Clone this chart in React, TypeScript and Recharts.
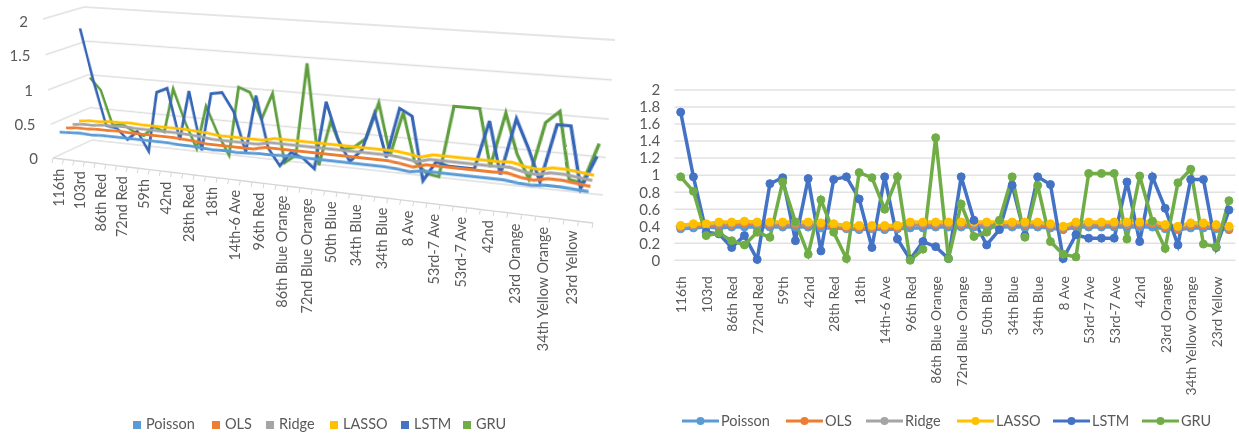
import React from "react";
import {
  LineChart,
  Line,
  XAxis,
  YAxis,
  CartesianGrid,
  Legend,
} from "recharts";

// odd categories are skipped by the axis in the picture, so they stay blank
const categories = [
  "116th", "", "103rd", "", "86th Red", "", "72nd Red", "", "59th", "", "42nd", "",
  "28th Red", "", "18th", "", "14th-6 Ave", "", "96th Red", "", "86th Blue Orange", "",
  "72nd Blue Orange", "", "50th Blue", "", "34th Blue", "", "34th Blue", "", "8 Ave", "",
  "53rd-7 Ave", "", "53rd-7 Ave", "", "42nd", "", "23rd Orange", "", "34th Yellow Orange", "",
  "23rd Yellow", "",
];

const poisson = [
  0.37, 0.38, 0.39, 0.38, 0.39, 0.39, 0.39, 0.39, 0.39, 0.39, 0.39, 0.38, 0.38, 0.37, 0.36,
  0.37, 0.36, 0.37, 0.38, 0.38, 0.39, 0.39, 0.39, 0.39, 0.39, 0.39, 0.39, 0.39, 0.39, 0.38,
  0.36, 0.39, 0.39, 0.39, 0.39, 0.39, 0.39, 0.39, 0.37, 0.36, 0.38, 0.38, 0.37, 0.36,
];
const ols = [
  0.39, 0.41, 0.41, 0.42, 0.42, 0.43, 0.42, 0.42, 0.42, 0.42, 0.42, 0.41, 0.4, 0.38, 0.38,
  0.38, 0.38, 0.38, 0.42, 0.42, 0.42, 0.42, 0.42, 0.42, 0.42, 0.42, 0.42, 0.42, 0.42, 0.4,
  0.37, 0.42, 0.42, 0.42, 0.42, 0.42, 0.42, 0.43, 0.39, 0.37, 0.41, 0.41, 0.39, 0.37,
];
const ridge = [
  0.4, 0.42, 0.42, 0.44, 0.44, 0.45, 0.44, 0.44, 0.44, 0.44, 0.44, 0.43, 0.42, 0.4, 0.4,
  0.4, 0.4, 0.4, 0.44, 0.44, 0.44, 0.44, 0.44, 0.44, 0.44, 0.44, 0.44, 0.44, 0.44, 0.42,
  0.39, 0.44, 0.44, 0.44, 0.44, 0.44, 0.44, 0.45, 0.41, 0.39, 0.43, 0.43, 0.41, 0.39,
];
const lasso = [
  0.41, 0.43, 0.43, 0.45, 0.45, 0.46, 0.45, 0.45, 0.45, 0.45, 0.45, 0.44, 0.43, 0.41, 0.41,
  0.41, 0.41, 0.41, 0.45, 0.45, 0.45, 0.45, 0.45, 0.45, 0.45, 0.45, 0.45, 0.45, 0.45, 0.43,
  0.4, 0.45, 0.45, 0.45, 0.45, 0.45, 0.45, 0.46, 0.42, 0.4, 0.44, 0.44, 0.42, 0.4,
];
const lstm = [
  1.74, 0.98, 0.33, 0.31, 0.15, 0.29, 0.01, 0.9, 0.97, 0.23, 0.96, 0.11, 0.95, 0.98, 0.72,
  0.15, 0.98, 0.25, 0.01, 0.22, 0.16, 0.02, 0.98, 0.47, 0.18, 0.36, 0.88, 0.29, 0.98, 0.89,
  0.02, 0.3, 0.26, 0.26, 0.26, 0.92, 0.22, 0.98, 0.61, 0.18, 0.95, 0.95, 0.15, 0.59,
];
const gru = [
  0.98, 0.81, 0.29, 0.32, 0.23, 0.18, 0.33, 0.27, 0.92, 0.45, 0.07, 0.71, 0.33, 0.02, 1.03,
  0.97, 0.6, 0.98, 0, 0.13, 1.44, 0.02, 0.66, 0.28, 0.33, 0.47, 0.98, 0.27, 0.88, 0.22,
  0.07, 0.04, 1.02, 1.02, 1.02, 0.25, 0.99, 0.46, 0.14, 0.91, 1.07, 0.19, 0.16, 0.7,
];

const seriesNames = ["Poisson", "OLS", "Ridge", "LASSO", "LSTM", "GRU"];
const seriesValues = [poisson, ols, ridge, lasso, lstm, gru];
const colors = ["#5B9BD5", "#ED7D31", "#A5A5A5", "#FFC000", "#4472C4", "#70AD47"];
// the 3D panel shades its two tall series a little darker
const colors3d = ["#5B9BD5", "#ED7D31", "#A5A5A5", "#FFC000", "#3565B5", "#5F9E3E"];

const ticks2d = [0, 0.2, 0.4, 0.6, 0.8, 1, 1.2, 1.4, 1.6, 1.8, 2];
const ticks3d = [0, 0.5, 1, 1.5, 2];

const positions = categories.map((_, i) => i);
const xDomain = [-0.5, categories.length - 0.5];

const rows = categories.map((name, i) => {
  const row: Record<string, string | number> = { name, idx: i };
  seriesNames.forEach((s, k) => (row[s] = seriesValues[k][i]));
  return row;
});

const FONT = "Lato, 'Open Sans', sans-serif";
const TEXT = "#595959";
const GRID = "#e2e2e2";

type Pt = [number, number];

// corners of the 3D box, w = 0 is the front and w = 1 the back wall
const lerp = (a: Pt, b: Pt, t: number): Pt => [a[0] + (b[0] - a[0]) * t, a[1] + (b[1] - a[1]) * t];
const plane = (w: number): Pt[] => [
  lerp([43, 19], [84, 7], w),
  lerp([605, 60], [615, 40], w),
  lerp([593, 223], [603, 195], w),
  lerp([53, 158], [92, 140], w),
];

// unit square -> quad, returned as a 3x3 matrix
const squareToQuad = ([p0, p1, p2, p3]: Pt[]) => {
  const dx1 = p1[0] - p2[0];
  const dx2 = p3[0] - p2[0];
  const sx = p0[0] - p1[0] + p2[0] - p3[0];
  const dy1 = p1[1] - p2[1];
  const dy2 = p3[1] - p2[1];
  const sy = p0[1] - p1[1] + p2[1] - p3[1];
  const den = dx1 * dy2 - dx2 * dy1;
  const g = (sx * dy2 - dx2 * sy) / den;
  const h = (dx1 * sy - sx * dy1) / den;
  return [
    [p1[0] - p0[0] + g * p1[0], p3[0] - p0[0] + h * p3[0], p0[0]],
    [p1[1] - p0[1] + g * p1[1], p3[1] - p0[1] + h * p3[1], p0[1]],
    [g, h, 1],
  ];
};

const project = (quad: Pt[], u: number, v: number): Pt => {
  const m = squareToQuad(quad);
  const d = m[2][0] * u + m[2][1] * v + 1;
  return [(m[0][0] * u + m[0][1] * v + m[0][2]) / d, (m[1][0] * u + m[1][1] * v + m[1][2]) / d];
};

const PAD = 6;
const LAYER_W = 540;
const LAYER_H = 150;

// css matrix for a chart whose plot rect (PAD, PAD, w, h) lands on the quad
const quadCss = (quad: Pt[], w: number, h: number) => {
  const m = squareToQuad(quad);
  const col = (r: number[]) => [
    r[0] / w,
    r[1] / h,
    r[2] - (r[0] * PAD) / w - (r[1] * PAD) / h,
  ];
  const a = col(m[0]);
  const b = col(m[1]);
  const c = col(m[2]);
  return `matrix3d(${[a[0], b[0], 0, c[0], a[1], b[1], 0, c[1], 0, 0, 1, 0, a[2], b[2], 0, c[2]].join(",")})`;
};

const layerStyle = (quad: Pt[], w = LAYER_W, h = LAYER_H): React.CSSProperties => ({
  position: "absolute",
  left: 0,
  top: 0,
  transformOrigin: "0 0",
  transform: quadCss(quad, w, h),
});

const margin = { top: PAD, right: PAD, bottom: PAD, left: PAD };

// tick={false} would also drop the grid lines, so draw an empty tick instead
const NoTick = () => <g />;

const WallGrid = ({ quad, w = LAYER_W }: { quad: Pt[]; w?: number }) => (
  <div style={layerStyle(quad, w)}>
    <LineChart width={w + PAD * 2} height={LAYER_H + PAD * 2} data={rows} margin={margin}>
      <XAxis dataKey="idx" type="number" domain={xDomain} hide />
      <YAxis domain={[0, 2]} ticks={ticks3d} interval={0} width={0} tick={NoTick} axisLine={false} tickLine={false} />
      <CartesianGrid vertical={false} stroke="#dcdcdc" strokeWidth={1.4} />
      {/* an unstroked series, the y axis builds no ticks without one */}
      <Line dataKey="GRU" stroke="none" dot={false} isAnimationActive={false} />
    </LineChart>
  </div>
);

const SeriesLayer = ({ k }: { k: number }) => (
  <div style={layerStyle(plane((k + 0.5) / 6))}>
    <LineChart width={LAYER_W + PAD * 2} height={LAYER_H + PAD * 2} data={rows} margin={margin}>
      <XAxis dataKey="idx" type="number" domain={xDomain} hide />
      <YAxis hide domain={[0, 2]} width={0} />
      <Line
        dataKey={seriesNames[k]}
        stroke={colors3d[k]}
        strokeWidth={3.1}
        dot={false}
        isAnimationActive={false}
      />
    </LineChart>
  </div>
);

const FRAME_LEFT = 40;
const FRAME_W = 560;
const front = plane(0);

const FrontTick = (props: any) => {
  const { x, payload } = props;
  const step = 1 / categories.length;
  const u = (x - FRAME_LEFT) / FRAME_W;
  const [px, py] = project(front, u, 1);
  const a = project(front, u - step / 2, 1);
  const b = project(front, u + step / 2, 1);
  const top = py + 10;
  return (
    <g>
      <line x1={a[0]} y1={a[1]} x2={b[0]} y2={b[1]} stroke="#d6d6d6" strokeWidth={1.4} />
      <line x1={a[0]} y1={a[1]} x2={a[0] - 1} y2={a[1] + 5} stroke="#d6d6d6" strokeWidth={1} />
      {payload.value === categories.length - 1 && (
        <line x1={b[0]} y1={b[1]} x2={b[0] - 1} y2={b[1] + 5} stroke="#d6d6d6" strokeWidth={1} />
      )}
      <text
        transform={`rotate(-90 ${px} ${top})`}
        x={px}
        y={top}
        textAnchor="end"
        dominantBaseline="central"
        fontSize={14.4}
        fontFamily={FONT}
        fill={TEXT}
      >
        {categories[payload.value]}
      </text>
    </g>
  );
};

const SlantedYTick = (props: any) => {
  const { y, payload } = props;
  // labels follow the slanted left edge of the side wall
  const x = 53 - ((158 - y) / 137) * 10 - 15;
  return (
    <text x={x} y={y} textAnchor="end" dominantBaseline="central" fontSize={15} fontFamily={FONT} fill={TEXT}>
      {payload.value}
    </text>
  );
};

const RotatedTick = (props: any) => {
  const { x, y, payload } = props;
  return (
    <text
      transform={`rotate(-90 ${x} ${y})`}
      x={x}
      y={y}
      textAnchor="end"
      dominantBaseline="central"
      fontSize={13.8}
      fontFamily={FONT}
      fill={TEXT}
    >
      {categories[payload.value]}
    </text>
  );
};

const legendLefts3d = [133, 212, 266, 330, 401, 463];
const legendLefts2d = [682, 786, 866, 957, 1053, 1142];

const SquareLegend = ({ payload }: any) => (
  <div style={{ position: "relative", height: 20, fontFamily: FONT, fontSize: 14.5, color: TEXT }}>
    {(payload || []).map((p: any, i: number) => (
      <div key={p.value} style={{ position: "absolute", left: legendLefts3d[i], top: 0, whiteSpace: "nowrap", lineHeight: "20px" }}>
        <span style={{ display: "inline-block", width: 8, height: 8, background: p.color, marginRight: 5 }} />
        {p.value}
      </div>
    ))}
  </div>
);

const LineLegend = ({ payload }: any) => (
  <div style={{ position: "relative", height: 20, fontFamily: FONT, fontSize: 14.5, color: TEXT }}>
    {(payload || []).map((p: any, i: number) => (
      <div key={p.value} style={{ position: "absolute", left: legendLefts2d[i] - 620, top: 0, display: "flex", alignItems: "center", lineHeight: "20px" }}>
        <svg width={37} height={10} style={{ marginRight: 2 }}>
          <line x1={0} y1={5} x2={37} y2={5} stroke={p.color} strokeWidth={3} strokeLinecap="round" />
          <circle cx={18.5} cy={5} r={4} fill={p.color} />
        </svg>
        {p.value}
      </div>
    ))}
  </div>
);

const Chart3D = () => (
  <>
    <WallGrid quad={plane(1)} />
    <WallGrid quad={[[43, 19], [84, 7], [92, 140], [53, 158]]} w={60} />
    {[5, 4, 3, 2, 1, 0].map((k) => (
      <SeriesLayer key={k} k={k} />
    ))}
    <div style={{ position: "absolute", left: 0, top: 0 }}>
      <LineChart width={620} height={435} data={rows} margin={{ top: 21, right: 20, bottom: 0, left: 0 }}>
        <XAxis
          dataKey="idx"
          type="number"
          domain={xDomain}
          ticks={positions}
          interval={0}
          height={277}
          axisLine={false}
          tickLine={false}
          tick={FrontTick}
        />
        <YAxis domain={[0, 2]} ticks={ticks3d} interval={0} width={FRAME_LEFT} axisLine={false} tickLine={false} tick={SlantedYTick} />
        <Line dataKey="GRU" stroke="none" dot={false} isAnimationActive={false} />
      </LineChart>
    </div>
    <div style={{ position: "absolute", left: 0, top: 414 }}>
      <LineChart width={620} height={21} data={[]} margin={{ top: 0, right: 0, bottom: 0, left: 0 }}>
        {seriesNames.map((s, k) => (
          <Line key={s} dataKey={s} stroke={colors[k]} isAnimationActive={false} />
        ))}
        <Legend content={SquareLegend} itemSorter={null} verticalAlign="top" wrapperStyle={{ left: 0, top: 0, width: 620 }} />
      </LineChart>
    </div>
  </>
);

const Chart2D = () => (
  <div style={{ position: "absolute", left: 620, top: 0 }}>
    <LineChart width={619} height={435} data={rows} margin={{ top: 90, right: 3.7, bottom: 0, left: 0 }}>
      <CartesianGrid vertical={false} stroke={GRID} strokeWidth={1.5} />
      <XAxis
        dataKey="idx"
        type="number"
        domain={xDomain}
        ticks={positions}
        interval={0}
        height={150.7}
        axisLine={false}
        tickLine={false}
        tick={RotatedTick}
        tickMargin={10}
      />
      <YAxis
        domain={[0, 2]}
        ticks={ticks2d}
        interval={0}
        width={54.3}
        axisLine={false}
        tickLine={false}
        tickMargin={8}
        tick={{ fontSize: 15, fontFamily: FONT, fill: TEXT }}
      />
      {seriesNames.map((s, k) => (
        <Line
          key={s}
          dataKey={s}
          stroke={colors[k]}
          strokeWidth={3.5}
          dot={{ r: 4, fill: colors[k], stroke: colors[k], strokeWidth: 1 }}
          isAnimationActive={false}
        />
      ))}
      <Legend content={LineLegend} itemSorter={null} verticalAlign="bottom" height={24} wrapperStyle={{ left: 0, width: 619, bottom: 0 }} />
    </LineChart>
  </div>
);

export default function App() {
  return (
    <div style={{ position: "absolute", left: 0, top: 0, width: 1239, height: 435, background: "#fff", overflow: "hidden", filter: "blur(0.35px)" }}>
      <Chart3D />
      <Chart2D />
    </div>
  );
}
